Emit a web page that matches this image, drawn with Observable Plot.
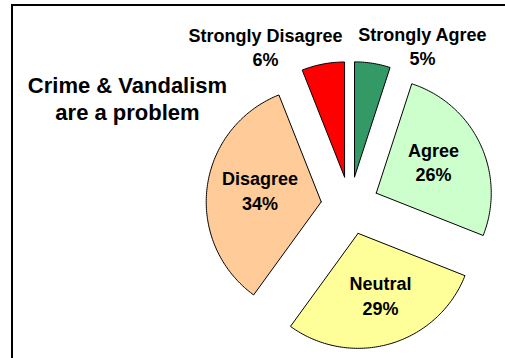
<!DOCTYPE html>
<html>
<head>
<meta charset="utf-8">
<script src="https://cdn.jsdelivr.net/npm/d3@7"></script>
<script src="https://cdn.jsdelivr.net/npm/@observablehq/plot@0.6"></script>
<style>
  html, body { margin: 0; padding: 0; background: #fff; overflow: hidden; }
  #wrap { position: relative; width: 505px; height: 358px; overflow: hidden; }
  #frame { position: absolute; left: 11px; top: 4px; width: 700px; height: 700px;
           border-left: 2px solid #000; border-top: 2px solid #000; box-sizing: border-box; pointer-events: none; }
  svg { display: block; }
</style>
</head>
<body>
<div id="wrap"><div id="frame"></div></div>
<script>
// ---- data ----
const categories = ["Strongly Agree", "Agree", "Neutral", "Disagree", "Strongly Disagree"];
const percents = [5, 26, 29, 34, 6];
const colors = ["#339966", "#CCFFCC", "#FFFF99", "#FFCC99", "#FF0000"];
const titleLines = ["Crime & Vandalism", "are a problem"];

// ---- layout (styles/positions, not data) ----
const W = 505, H = 358;
const R = 115;                 // pie radius in px
const cx = 349.5, cy = 205;    // pie centre in px
const explode = 29 / R;        // explosion distance (in radii)
const insideK = 0.56;          // label radius for inside labels
const outsideK = 1.16;         // label radius for outside labels
const outside = new Set(["Strongly Agree", "Strongly Disagree"]);
const nudge = {
  "Strongly Agree": [47, 0],
  "Strongly Disagree": [-54, 0],
  "Agree": [-1, -4.5],
  "Disagree": [2.7, -4.2],
  "Neutral": [4.4, -0.6]
};

// ---- build slices from data ----
const total = d3.sum(percents);
let acc = 0;
const slices = categories.map((c, i) => {
  const a0 = acc / total * 2 * Math.PI;
  acc += percents[i];
  const a1 = acc / total * 2 * Math.PI;
  const mid = (a0 + a1) / 2;
  const ox = explode * Math.sin(mid), oy = explode * Math.cos(mid);
  return {cat: c, pct: percents[i], a0, a1, mid, ox, oy};
});

const polyPts = [];
for (const s of slices) {
  polyPts.push({cat: s.cat, u: s.ox, v: s.oy});
  const n = Math.max(2, Math.ceil((s.a1 - s.a0) / (Math.PI / 180)));
  for (let k = 0; k <= n; k++) {
    const a = s.a0 + (s.a1 - s.a0) * k / n;
    polyPts.push({cat: s.cat, u: s.ox + Math.sin(a), v: s.oy + Math.cos(a)});
  }
  polyPts.push({cat: s.cat, u: s.ox, v: s.oy});
}

const labels = slices.map(s => {
  const k = outside.has(s.cat) ? outsideK : insideK;
  return {
    cat: s.cat,
    text: `${s.cat}\n${s.pct}%`,
    u: s.ox + k * Math.sin(s.mid),
    v: s.oy + k * Math.cos(s.mid),
    dx: nudge[s.cat][0],
    dy: nudge[s.cat][1]
  };
});

const font = "'Liberation Sans', Arial, Helvetica, sans-serif";

const chart = Plot.plot({
  width: W,
  height: H,
  margin: 0,
  style: {fontFamily: font, background: "transparent", overflow: "visible"},
  x: {domain: [-cx / R, (W - cx) / R], axis: null},
  y: {domain: [-(H - cy) / R, cy / R], axis: null},
  color: {domain: categories, range: colors},
  marks: [
    Plot.line(polyPts, {
      x: "u", y: "v", z: "cat", fill: "cat",
      stroke: "#000", strokeWidth: 1, curve: "linear", strokeLinejoin: "miter"
    }),
    ...labels.map(l => Plot.text([l], {
      x: "u", y: "v", text: "text",
      dx: l.dx, dy: l.dy,
      fontSize: 18, fontWeight: "bold", fill: "#000",
      lineHeight: 1.355, lineAnchor: "middle", textAnchor: "middle"
    })),
    Plot.text([titleLines.join("\n")], {
      frameAnchor: "top-left", text: d => d,
      dx: 127, dy: 97,
      fontSize: 22, fontWeight: "bold", fill: "#000",
      lineHeight: 1.23, lineAnchor: "middle", textAnchor: "middle"
    })
  ]
});

document.getElementById("wrap").prepend(chart);
</script>
</body>
</html>
